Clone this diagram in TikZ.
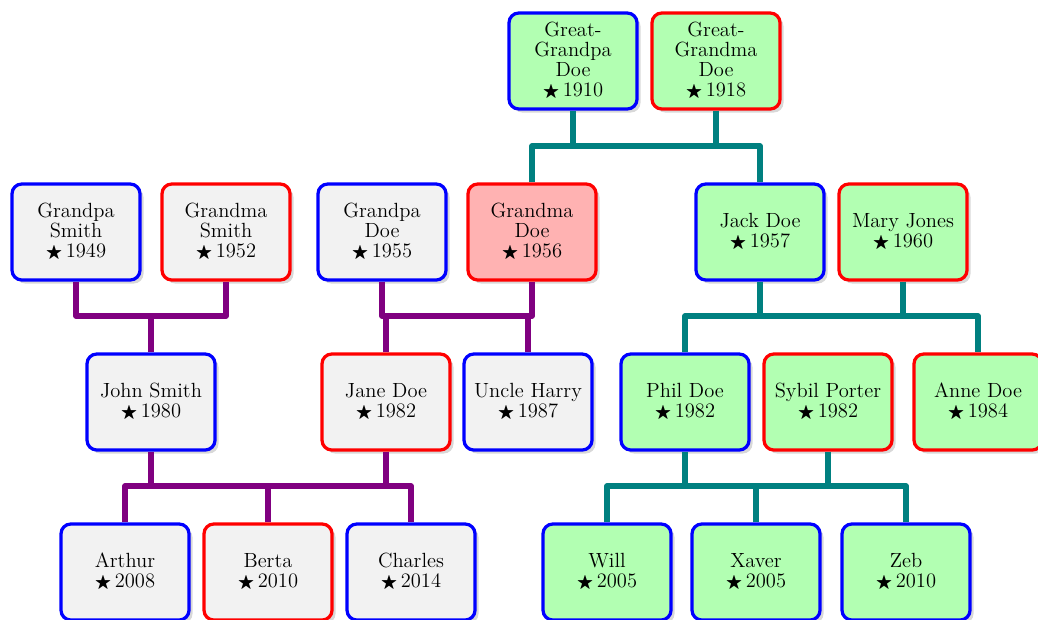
\documentclass[tikz,border=0pt]{standalone}
\usepackage{amssymb}
\usepackage{graphicx}
\usetikzlibrary{shadows}

\newcommand{\byear}[1]{\raisebox{0.05ex}{\scalebox{0.85}{$\bigstar$}}\,#1}

\begin{document}
\begin{tikzpicture}[x=0.025cm, y=-0.025cm,
    person/.style={draw, line width=2.3pt, rounded corners=7pt,
      minimum width=3.2cm, minimum height=2.4cm, align=center,
      font=\fontsize{14.6}{14.2}\selectfont,
      drop shadow={fill=black!30, opacity=0.5, shadow xshift=2.5pt, shadow yshift=-2.5pt}},
    male/.style={person, draw=blue},
    female/.style={person, draw=red},
    greybg/.style={fill=gray!10},
    greenbg/.style={fill=green!30},
    pinkbg/.style={fill=red!30},
    tealline/.style={draw=teal, line width=4pt, line join=round},
    violetline/.style={draw=violet, line width=4pt, line join=round}]
    \useasboundingbox (0,0) rectangle (1038,619);

    % Great-grandparents
    \node[male, greenbg] (ggpa) at (573,61) {Great-\\Grandpa\\Doe\\\byear{1910}};
    \node[female, greenbg] (ggma) at (716,61) {Great-\\Grandma\\Doe\\\byear{1918}};

    % Grandparents
    \node[male, greybg] (gpsmith) at (76,232) {Grandpa\\Smith\\\byear{1949}};
    \node[female, greybg] (gmsmith) at (226,232) {Grandma\\Smith\\\byear{1952}};
    \node[male, greybg] (gpdoe) at (382,232) {Grandpa\\Doe\\\byear{1955}};
    \node[female, pinkbg] (gmdoe) at (532,232) {Grandma\\Doe\\\byear{1956}};
    \node[male, greenbg] (jack) at (760,232) {Jack Doe\\\byear{1957}};
    \node[female, greenbg] (mary) at (903,232) {Mary Jones\\\byear{1960}};

    % Parents
    \node[male, greybg] (john) at (151,402) {John Smith\\\byear{1980}};
    \node[female, greybg] (jane) at (386,402) {Jane Doe\\\byear{1982}};
    \node[male, greybg] (harry) at (528,402) {Uncle Harry\\\byear{1987}};
    \node[male, greenbg] (phil) at (685,402) {Phil Doe\\\byear{1982}};
    \node[female, greenbg] (sybil) at (828,402) {Sybil Porter\\\byear{1982}};
    \node[female, greenbg] (anne) at (978,402) {Anne Doe\\\byear{1984}};

    % Children
    \node[male, greybg] (arthur) at (125,572) {Arthur\\\byear{2008}};
    \node[female, greybg] (berta) at (268,572) {Berta\\\byear{2010}};
    \node[male, greybg] (charles) at (411,572) {Charles\\\byear{2014}};
    \node[male, greenbg] (will) at (607,572) {Will\\\byear{2005}};
    \node[male, greenbg] (xaver) at (756,572) {Xaver\\\byear{2005}};
    \node[male, greenbg] (zeb) at (906,572) {Zeb\\\byear{2010}};

    % Family bars
    \coordinate (u1) at (0,146);
    \coordinate (u2) at (0,316);
    \coordinate (u3) at (0,486);

    \draw[tealline] (ggpa.south) -- (ggpa.south |- u1);
    \draw[tealline] (ggma.south) -- (ggma.south |- u1);
    \draw[tealline] (gmdoe.north) |- (u1 -| jack.north) -- (jack.north);

    \draw[violetline] (gpsmith.south) |- (u2 -| gmsmith.south) -- (gmsmith.south);
    \draw[violetline] (john.north) -- (john.north |- u2);

    \draw[violetline] (gpdoe.south) |- (u2 -| gmdoe.south) -- (gmdoe.south);
    \draw[violetline] (jane.north) -- (jane.north |- u2);
    \draw[violetline] (harry.north) -- (harry.north |- u2);

    \draw[tealline] (phil.north) |- (u2 -| anne.north) -- (anne.north);
    \draw[tealline] (jack.south) -- (jack.south |- u2);
    \draw[tealline] (mary.south) -- (mary.south |- u2);

    \draw[violetline] (arthur.north) |- (u3 -| charles.north) -- (charles.north);
    \draw[violetline] (john.south) -- (john.south |- u3);
    \draw[violetline] (jane.south) -- (jane.south |- u3);
    \draw[violetline] (berta.north) -- (berta.north |- u3);

    \draw[tealline] (will.north) |- (u3 -| zeb.north) -- (zeb.north);
    \draw[tealline] (phil.south) -- (phil.south |- u3);
    \draw[tealline] (sybil.south) -- (sybil.south |- u3);
    \draw[tealline] (xaver.north) -- (xaver.north |- u3);
\end{tikzpicture}
\end{document}
